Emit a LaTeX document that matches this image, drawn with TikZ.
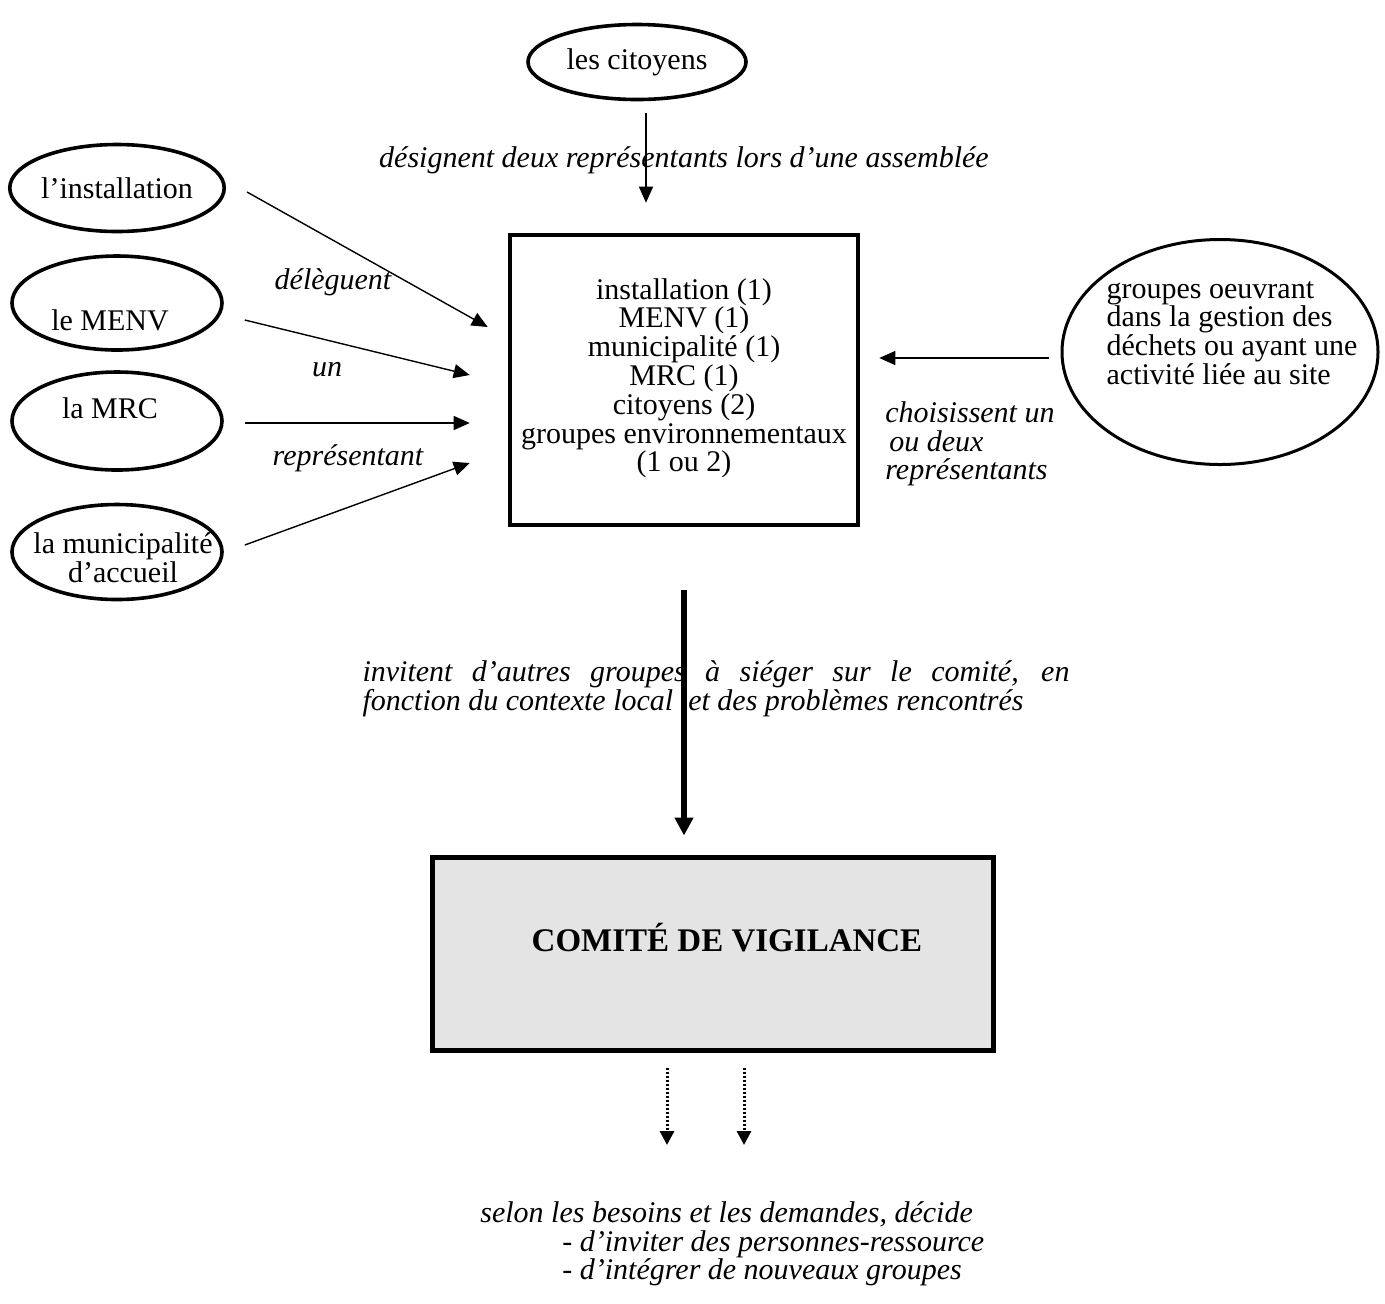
\documentclass[tikz,border=0pt]{standalone}
\usepackage{fontspec}
\setmainfont{Liberation Serif}
\usetikzlibrary{shapes.geometric,arrows.meta}
\newcommand{\figfont}{\fontsize{15}{14.4}\selectfont}
\definecolor{comitegray}{RGB}{228,228,228}

\begin{document}
\begin{tikzpicture}[x=0.5pt, y=-0.5pt, font=\figfont,
    oval/.style = {draw, ellipse, line width=1.8pt, inner sep=0pt, minimum width=105pt},
    frame/.style = {draw, line width=2.3pt, align=center},
    lab/.style = {font={\figfont\itshape}, inner sep=0pt},
    arr/.style = {-{Triangle[length=8pt, width=7pt]}, line width=0.7pt},
    dotarr/.style = {-{Triangle[length=7pt, width=7pt]}, line width=1.5pt, dash pattern=on 1pt off 1pt, shorten <=7.5pt, shorten >=28pt}]
    \useasboundingbox (0,0) rectangle (1385,1303);
    \node[oval, minimum width=109pt, minimum height=37.5pt] (cit) at (637,62) {les citoyens};
    \node[oval, minimum height=43.5pt] (inst) at (117,188) {l’installation};
    \node[oval, minimum height=47pt, label={[xshift=-3.5pt, yshift=-8.5pt]center:le MENV}] (menv) at (117,303) {};
    \node[oval, minimum height=49pt, label={[xshift=-3.5pt, yshift=6.5pt]center:la MRC}] (mrc) at (117,421) {};
    \node[oval, minimum height=47.5pt, label={[align=center, xshift=3pt, yshift=-2.75pt]center:la municipalité\\d’accueil}] (muni) at (117,552) {};
    \node[frame, minimum width=174pt, minimum height=145pt] (comm) at (684,380) {installation (1)\\MENV (1)\\municipalité (1)\\MRC (1)\\citoyens (2)\\groupes environnementaux\\(1 ou 2)\\[-9.4pt]};
    \node[oval, line width=1.5pt, minimum width=158pt, minimum height=112.5pt, label={[align=left, xshift=6pt, yshift=9.5pt]center:groupes oeuvrant\\dans la gestion des\\déchets ou ayant une\\activité liée au site}] (grp) at (1220,352) {};
    \node[frame, fill=comitegray, line width=2.5pt, minimum width=280.5pt, minimum height=96.5pt, label={[xshift=7.25pt, yshift=7.75pt, font={\fontsize{16.5}{18}\selectfont\bfseries}]center:COMITÉ DE VIGILANCE}] (comite) at (712.5,953.5) {};

    \node[lab] (desig) at (684,160) {désignent deux représentants lors d’une assemblée};
    \node[lab] (deleg) at (333,282) {délèguent};
    \node[lab] (un) at (327,370) {un};
    \node[lab] (repr) at (348,458) {représentant};
    \node[lab, align=left, anchor=north west] (chois) at (885,401) {choisissent un\\\hspace*{2pt}ou deux\\représentants};
    \node[lab, text width=353.5pt, align=justify] (invit) at (716,689) {invitent d’autres groupes à siéger sur le comité, en\linebreak fonction du contexte local\ \ et des problèmes rencontrés};
    \node[lab, align=left, anchor=north west] (selon) at (480,1201) {selon les besoins et les demandes, décide\\\hspace*{41pt}- d’inviter des personnes-ressource\\\hspace*{41pt}- d’intégrer de nouveaux groupes};

    \draw[arr] ([xshift=4.5pt, yshift=-6pt]cit.south) -- ([xshift=-19pt, yshift=15pt]comm.north);
    \draw[arr] ([xshift=10.5pt, yshift=-2pt]inst.east) -- ([xshift=-10pt, yshift=26.5pt]comm.west);
    \draw[arr] ([xshift=10.5pt, yshift=-8.5pt]menv.east) -- ([xshift=-19pt, yshift=2.5pt]comm.west);
    \draw[arr] ([xshift=10.5pt, yshift=-1pt]mrc.east) -- ([xshift=-19pt, yshift=-21.5pt]comm.west);
    \draw[arr] ([xshift=10.5pt, yshift=3.5pt]muni.east) -- ([xshift=-19pt, yshift=-41.5pt]comm.west);
    \draw[arr] ([xshift=-6pt, yshift=-3pt]grp.west) -- ([xshift=9.5pt, yshift=11pt]comm.east);
    \draw[-{Triangle[length=9pt, width=9pt]}, line width=3pt] ([yshift=-31.5pt]comm.south) -- ([xshift=-14.25pt, yshift=9.5pt]comite.north);
    \coordinate (dl) at ([xshift=-22.75pt]comite.south);
    \coordinate (dr) at ([xshift=15.75pt]comite.south);
    \foreach \c in {dl,dr}
        \draw[dotarr] (\c) -- (\c |- selon.north);
\end{tikzpicture}
\end{document}
